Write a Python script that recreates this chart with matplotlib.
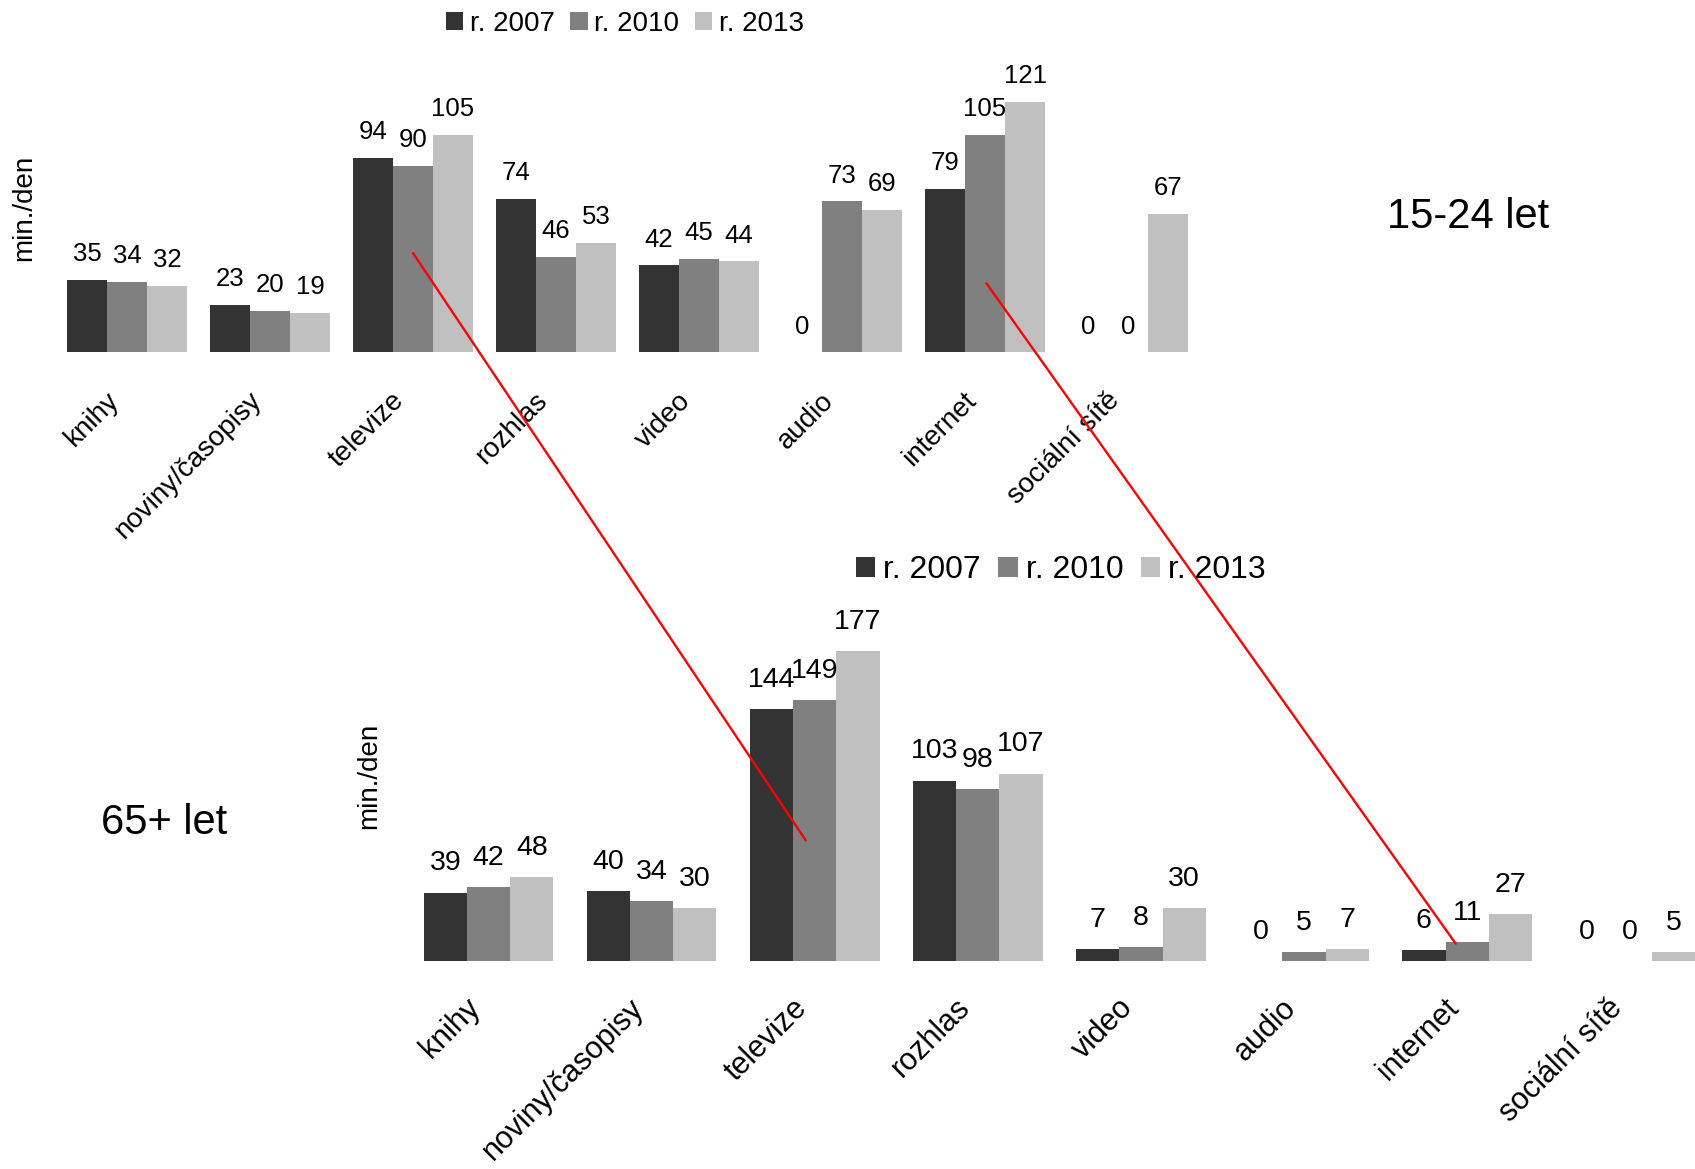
import matplotlib
matplotlib.use("Agg")
import matplotlib.pyplot as plt
from matplotlib.patches import ConnectionPatch
from matplotlib.transforms import ScaledTranslation
import numpy as np

plt.rcParams['font.family'] = ['Liberation Sans', 'DejaVu Sans']

categories = ["knihy", "noviny/časopisy", "televize", "rozhlas", "video",
              "audio", "internet", "sociální sítě"]
years = ["r. 2007", "r. 2010", "r. 2013"]
colors = ["#333333", "#808080", "#c0c0c0"]

# minutes per day, age group 15-24
young_2007 = [35, 23, 94, 74, 42, 0, 79, 0]
young_2010 = [34, 20, 90, 46, 45, 73, 105, 0]
young_2013 = [32, 19, 105, 53, 44, 69, 121, 67]

# minutes per day, age group 65+
old_2007 = [39, 40, 144, 103, 7, 0, 6, 0]
old_2010 = [42, 34, 149, 98, 8, 5, 11, 0]
old_2013 = [48, 30, 177, 107, 30, 7, 27, 5]

W, H = 1695, 1169
fig = plt.figure(figsize=(W / 100, H / 100), dpi=100)


def panel(rect, series, width, ymax, xmax, fs, cat_fs, label_off,
          tick_pad, tick_dx):
    ax = fig.add_axes(rect)
    x = np.arange(len(categories))
    for i, (vals, col, yr) in enumerate(zip(series, colors, years)):
        pos = x + (i - 1) * width
        ax.bar(pos, vals, width=width, color=col, label=yr, linewidth=0)
        for px, v in zip(pos, vals):
            ax.annotate(str(v), (px, v), xytext=(0, label_off),
                        textcoords="offset points", ha="center",
                        va="baseline", fontsize=fs)
    ax.set_xlim(-0.5, xmax)
    ax.set_ylim(0, ymax)
    ax.set_xticks(x)
    ax.set_xticklabels(categories, rotation=45, ha="right", va="center",
                       rotation_mode="anchor", fontsize=cat_fs)
    ax.tick_params(axis="x", length=0, pad=tick_pad)
    shift = ScaledTranslation(tick_dx / 72, 0, fig.dpi_scale_trans)
    for lab in ax.get_xticklabels():
        lab.set_transform(lab.get_transform() + shift)
    ax.set_yticks([])
    for s in ax.spines.values():
        s.set_visible(False)
    ax.patch.set_alpha(0)
    return ax


# top panel: 15-24 let
top_rect = [55.5 / W, 1 - 352.4 / H, 1144 / W, 130 * 2.07 / H]
ax_top = panel(top_rect, [young_2007, young_2010, young_2013], 0.28, 130,
               7.5, 18.5, 20, 13.5, 32, -9)

# bottom panel: 65+ let
bot_rect = [407 / W, 1 - 961 / H, (W - 407) / W, 200 * 1.751 / H]
ax_bot = panel(bot_rect, [old_2007, old_2010, old_2013], 0.265, 200,
               -0.5 + (W - 407) / 163.1, 20.5, 22, 16, 30.5, -9)

fig.text(23.8 / W, 1 - 207.5 / H, "min./den", rotation=90, ha="center",
         va="center", fontsize=20)
fig.text(369.7 / W, 1 - 776 / H, "min./den", rotation=90, ha="center",
         va="center", fontsize=20)
fig.text(1468 / W, 1 - 217.5 / H, "15-24 let", ha="center", va="center",
         fontsize=30)
fig.text(164 / W, 1 - 822.5 / H, "65+ let", ha="center", va="center",
         fontsize=30)

handles, labels = ax_top.get_legend_handles_labels()
fig.legend(handles, labels, loc="center left",
           bbox_to_anchor=(446 / W, 1 - 23.8 / H), ncol=3, frameon=False,
           fontsize=20, handlelength=0.62, handleheight=0.62,
           handletextpad=0.25, columnspacing=0.55, borderpad=0,
           borderaxespad=0)
handles, labels = ax_bot.get_legend_handles_labels()
fig.legend(handles, labels, loc="center left",
           bbox_to_anchor=(856 / W, 1 - 570.5 / H), ncol=3, frameon=False,
           fontsize=23, handlelength=0.6, handleheight=0.6,
           handletextpad=0.25, columnspacing=0.55, borderpad=0,
           borderaxespad=0)

# red connectors between the two age groups (televize, internet)
conn_top = [(2.0, 48), (6.01, 33.4)]
conn_bot = [(1.944, 69), (5.93, 9.9)]
for a, b in zip(conn_top, conn_bot):
    cp = ConnectionPatch(xyA=a, coordsA=ax_top.transData,
                         xyB=b, coordsB=ax_bot.transData,
                         color="#ff0000", linewidth=1.7)
    fig.add_artist(cp)

fig.savefig("out.png", dpi=100)
